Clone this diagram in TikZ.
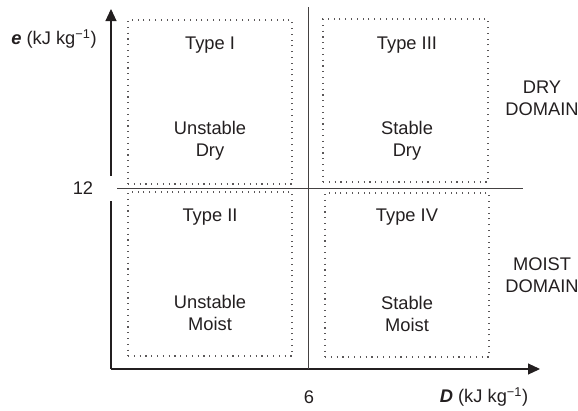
\documentclass[tikz,border=0pt]{standalone}
\usepackage{fontspec}
\setmainfont{Liberation Sans}
\usetikzlibrary{arrows.meta}
\definecolor{ink}{HTML}{231F20}
\begin{document}
\begin{tikzpicture}[x=1pt,y=-1pt,
  axis/.style={draw=ink,line width=1.1pt},
  divider/.style={draw=ink!85,line width=1pt},
  dotbox/.style={draw=ink!75,line width=1.1pt,dash pattern=on 1.1pt off 4.7pt,inner sep=0pt},
  lbl/.style={text=ink,font=\fontsize{18.3}{22}\selectfont,align=center,inner sep=0pt},
  tip/.style={-{Triangle[length=12pt,width=11pt]}}]
\useasboundingbox (0,0) rectangle (578,410);
% axes
\coordinate (o) at (111,369);
\coordinate (yg1) at (111,201);
\coordinate (yg2) at (111,176);
\coordinate (ytip) at (111,9);
\coordinate (xtip) at (540,369);
\draw[axis] (o) -- (yg1);
\draw[axis,tip] (yg2) -- (ytip);
\draw[axis,tip] (o) -- (xtip);
% dividers
\coordinate (vtop) at (308.5,7);
\coordinate (vbot) at (308.5,369);
\coordinate (hl) at (117,188);
\coordinate (hr) at (523,188);
\draw[divider] (vtop) -- (vbot);
\draw[divider] (hl) -- (hr);
% dotted boxes
\node[dotbox,minimum width=164pt,minimum height=164pt] (b1) at (210,102) {};
\node[dotbox,minimum width=165pt,minimum height=163pt] (b3) at (405.5,100.5) {};
\node[dotbox,minimum width=164pt,minimum height=164pt] (b2) at (210,274) {};
\node[dotbox,minimum width=164pt,minimum height=164pt] (b4) at (407,275) {};
% box texts
\node[lbl] (t1) at (210,45) {Type I};
\node[lbl] (s1) at (210,141) {Unstable\\Dry};
\node[lbl] (t3) at (407,45) {Type III};
\node[lbl] (s3) at (407,141) {Stable\\Dry};
\node[lbl] (t2) at (210,217) {Type II};
\node[lbl] (s2) at (210,313) {Unstable\\Moist};
\node[lbl] (t4) at (407,217) {Type IV};
\node[lbl] (s4) at (407,314) {Stable\\Moist};
% domain labels
\node[lbl] (dry) at (542,98) {DRY\\DOMAIN};
\node[lbl] (moist) at (542,275) {MOIST\\DOMAIN};
% axis labels
\node[lbl] (ylab) at (54,39) {\textbf{\textit{e}} (kJ kg\textsuperscript{−1})};
\node[lbl] (xlab) at (484,397) {\textbf{\textit{D}} (kJ kg\textsuperscript{−1})};
\node[lbl] (y12) at (83,188) {12};
\node[lbl] (x6) at (309,397) {6};
\end{tikzpicture}
\end{document}
